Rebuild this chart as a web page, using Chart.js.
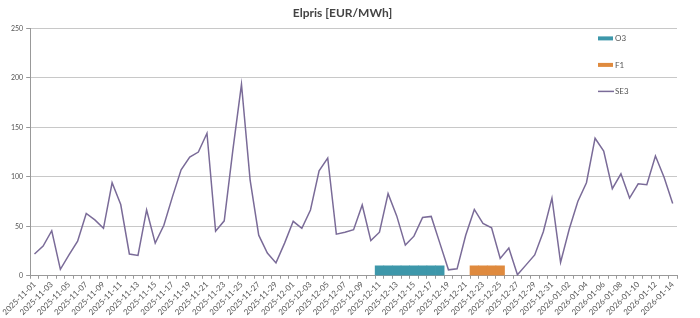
<!DOCTYPE html>
<html>
<head>
<meta charset="utf-8">
<script src="https://cdn.jsdelivr.net/npm/chart.js@4"></script>
<style>
  html, body { margin: 0; padding: 0; background: #fff; }
  #wrap { width: 700px; height: 318px; }
</style>
</head>
<body>
<div id="wrap"><canvas id="chart"></canvas></div>
<script>
const dates = [
  '2025-11-01','2025-11-02','2025-11-03','2025-11-04','2025-11-05','2025-11-06','2025-11-07','2025-11-08','2025-11-09','2025-11-10',
  '2025-11-11','2025-11-12','2025-11-13','2025-11-14','2025-11-15','2025-11-16','2025-11-17','2025-11-18','2025-11-19','2025-11-20',
  '2025-11-21','2025-11-22','2025-11-23','2025-11-24','2025-11-25','2025-11-26','2025-11-27','2025-11-28','2025-11-29','2025-11-30',
  '2025-12-01','2025-12-02','2025-12-03','2025-12-04','2025-12-05','2025-12-06','2025-12-07','2025-12-08','2025-12-09','2025-12-10',
  '2025-12-11','2025-12-12','2025-12-13','2025-12-14','2025-12-15','2025-12-16','2025-12-17','2025-12-18','2025-12-19','2025-12-20',
  '2025-12-21','2025-12-22','2025-12-23','2025-12-24','2025-12-25','2025-12-26','2025-12-27','2025-12-28','2025-12-29','2025-12-30',
  '2025-12-31','2026-01-01','2026-01-02','2026-01-03','2026-01-04','2026-01-05','2026-01-06','2026-01-07','2026-01-08','2026-01-09',
  '2026-01-10','2026-01-11','2026-01-12','2026-01-13','2026-01-14'
];

const se3Values = [
  22, 30, 45.5, 6.5, 21, 35, 63, 56.5, 48, 94,
  72, 22, 20.5, 66.5, 33, 51, 80, 107, 120, 125,
  144, 45, 55.5, 127, 193.5, 97, 41, 23, 13, 33,
  55, 48, 66.5, 106, 119, 42, 44, 46.5, 71.5, 35.5,
  44, 83, 60.5, 31, 40, 59, 60, 33, 6, 7,
  41, 67, 53, 48.5, 17.5, 28, 1, 11, 21, 44.5,
  78.5, 13.5, 47, 75, 94, 139, 126, 88, 103, 78.5,
  93, 92, 121, 99.5, 73
];

const o3Values = [
  null, null, null, null, null, null, null, null, null, null,
  null, null, null, null, null, null, null, null, null, null,
  null, null, null, null, null, null, null, null, null, null,
  null, null, null, null, null, null, null, null, null, null,
  10, 10, 10, 10, 10, 10, 10, 10, null, null,
  null, null, null, null, null, null, null, null, null, null,
  null, null, null, null, null, null, null, null, null, null,
  null, null, null, null, null
];

const f1Values = [
  null, null, null, null, null, null, null, null, null, null,
  null, null, null, null, null, null, null, null, null, null,
  null, null, null, null, null, null, null, null, null, null,
  null, null, null, null, null, null, null, null, null, null,
  null, null, null, null, null, null, null, null, null, null,
  null, 10, 10, 10, 10, null, null, null, null, null,
  null, null, null, null, null, null, null, null, null, null,
  null, null, null, null, null
];

const fontFamily = 'Lato, "Open Sans", sans-serif';

// legend drawn inside the plot, top right, like the original
const insideLegend = {
  id: 'insideLegend',
  afterDraw(chart) {
    const ctx = chart.ctx;
    const area = chart.chartArea;
    const x = area.right - 79;
    let y = area.top + 10;
    ctx.save();
    ctx.font = '8px ' + fontFamily;
    ctx.textBaseline = 'middle';
    chart.data.datasets.forEach(ds => {
      if (ds.type === 'line') {
        ctx.strokeStyle = ds.borderColor;
        ctx.lineWidth = 1.5;
        ctx.beginPath();
        ctx.moveTo(x, y);
        ctx.lineTo(x + 16, y);
        ctx.stroke();
      } else {
        ctx.fillStyle = ds.backgroundColor;
        ctx.fillRect(x, y - 2, 15, 4);
      }
      ctx.fillStyle = '#555';
      ctx.fillText(ds.label, x + 17, y + 0.5);
      y += 26.5;
    });
    ctx.restore();
  }
};

new Chart(document.getElementById('chart'), {
  data: {
    labels: dates,
    datasets: [
      {
        type: 'bar',
        label: 'O3',
        data: o3Values,
        backgroundColor: '#3d97aa',
        categoryPercentage: 1,
        barPercentage: 1,
        order: 2
      },
      {
        type: 'bar',
        label: 'F1',
        data: f1Values,
        backgroundColor: '#df8a3e',
        categoryPercentage: 1,
        barPercentage: 1,
        order: 3
      },
      {
        type: 'line',
        label: 'SE3',
        data: se3Values,
        borderColor: '#7a6b98',
        borderWidth: 1.5,
        pointRadius: 0,
        tension: 0,
        fill: false,
        order: 1
      }
    ]
  },
  options: {
    responsive: true,
    maintainAspectRatio: false,
    animation: false,
    layout: { padding: { left: 8, right: 23, top: 0, bottom: 0 } },
    plugins: {
      legend: { display: false },
      tooltip: { enabled: false },
      title: {
        display: true,
        text: 'Elpris [EUR/MWh]',
        color: '#444',
        font: { family: fontFamily, size: 12, weight: 'bold' },
        padding: { top: 6, bottom: 8 }
      }
    },
    scales: {
      x: {
        stacked: true,
        offset: true,
        grid: {
          display: true,
          drawOnChartArea: false,
          offset: true,
          tickLength: 3,
          color: '#999'
        },
        border: { color: '#999' },
        ticks: {
          autoSkip: false,
          minRotation: 45,
          maxRotation: 45,
          padding: 1,
          color: '#555',
          font: { family: fontFamily, size: 8 },
          callback: (val, i) => (i % 2 === 0 ? dates[i] : '')
        }
      },
      y: {
        min: 0,
        max: 250,
        grid: {
          color: '#c8c8c8',
          tickLength: 4,
          tickColor: '#999'
        },
        border: { color: '#999' },
        ticks: {
          stepSize: 50,
          padding: 3,
          color: '#555',
          font: { family: fontFamily, size: 7 }
        }
      }
    }
  },
  plugins: [insideLegend]
});
</script>
</body>
</html>
